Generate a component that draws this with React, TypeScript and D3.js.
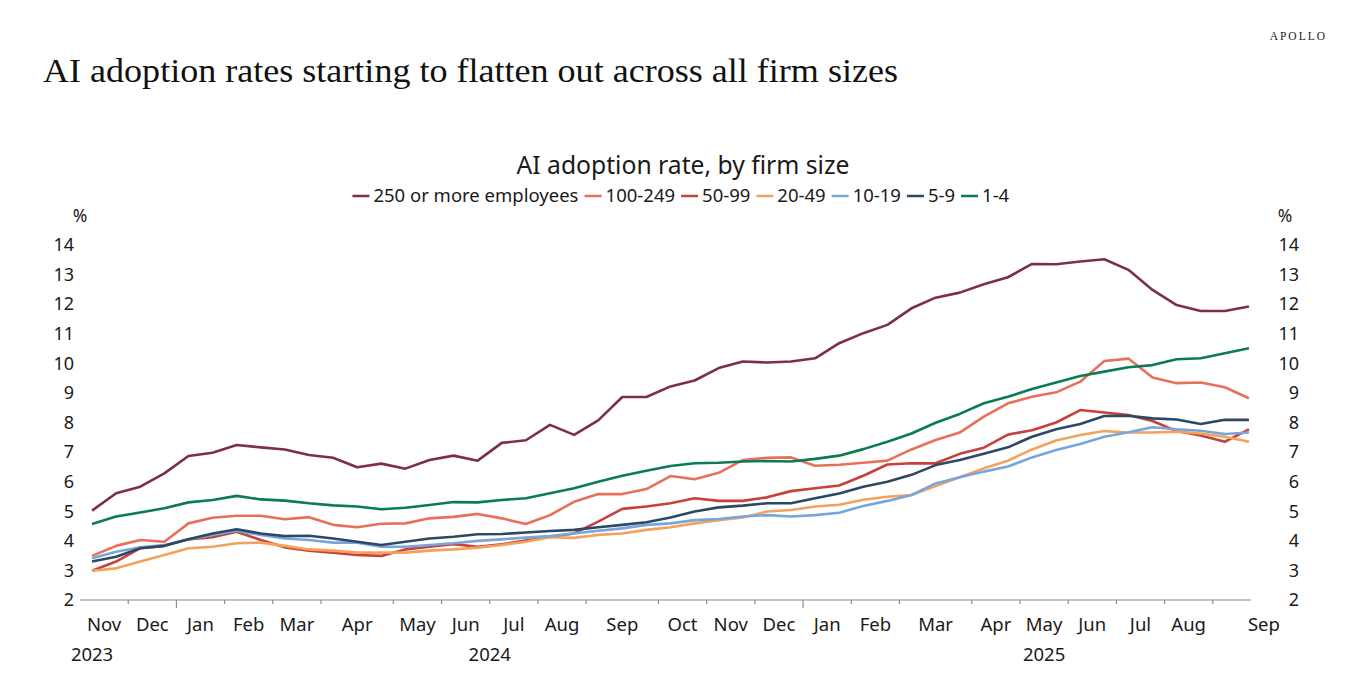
import { useEffect, useRef } from "react";
import * as d3 from "d3";

const WIDTH = 1366;
const HEIGHT = 678;
const FONT = "'Noto Sans', 'Open Sans', sans-serif";

// biweekly observations, Nov 2023 - Sep 2025
const MONTHS = ["Nov", "Dec", "Jan", "Feb", "Mar", "Apr", "May", "Jun", "Jul", "Aug", "Sep", "Oct",
  "Nov", "Dec", "Jan", "Feb", "Mar", "Apr", "May", "Jun", "Jul", "Aug", "Sep"];
const MONTH_POINTS = [2, 2, 2, 2, 2, 3, 2, 2, 2, 2, 3, 2, 2, 2, 2, 2, 3, 2, 2, 2, 2, 2, 2];
const YEARS = ["2023", "2024", "2025"];
const YEAR_AT = [0.5, 17, 40]; // in point units
const Y_TICKS = [2, 3, 4, 5, 6, 7, 8, 9, 10, 11, 12, 13, 14];

const emp250 = [5.02, 5.61, 5.83, 6.28, 6.87, 6.98, 7.24, 7.16, 7.09, 6.9, 6.81, 6.49, 6.61, 6.44, 6.73, 6.88, 6.71,
  7.31, 7.4, 7.92, 7.58, 8.07, 8.86, 8.86, 9.22, 9.42, 9.84, 10.06, 10.03, 10.06, 10.17,
  10.68, 11.02, 11.3, 11.86, 12.22, 12.39, 12.67, 12.91, 13.36, 13.35, 13.44, 13.52, 13.16, 12.48, 11.97, 11.77, 11.77, 11.92];
const emp100 = [3.49, 3.83, 4.03, 3.97, 4.59, 4.78, 4.85, 4.85, 4.73, 4.8, 4.54, 4.46, 4.58, 4.59, 4.76, 4.81, 4.91,
  4.76, 4.57, 4.87, 5.32, 5.58, 5.58, 5.75, 6.19, 6.08, 6.3, 6.73, 6.81, 6.82, 6.54,
  6.57, 6.64, 6.71, 7.09, 7.41, 7.66, 8.2, 8.65, 8.87, 9.02, 9.38, 10.08, 10.16, 9.52, 9.33, 9.35, 9.19, 8.82];
const emp50 = [2.99, 3.3, 3.75, 3.83, 4.05, 4.12, 4.31, 4.03, 3.78, 3.67, 3.6, 3.52, 3.49, 3.71, 3.8, 3.89, 3.8,
  3.88, 4.01, 4.14, 4.25, 4.65, 5.08, 5.16, 5.27, 5.44, 5.35, 5.35, 5.47, 5.68, 5.78,
  5.87, 6.2, 6.58, 6.62, 6.62, 6.94, 7.15, 7.59, 7.74, 8.0, 8.42, 8.34, 8.25, 8.05, 7.71, 7.56, 7.35, 7.77];
const emp20 = [2.99, 3.07, 3.3, 3.52, 3.75, 3.8, 3.92, 3.94, 3.83, 3.71, 3.67, 3.6, 3.6, 3.6, 3.67, 3.71, 3.77,
  3.86, 3.97, 4.12, 4.1, 4.2, 4.25, 4.37, 4.46, 4.59, 4.7, 4.79, 4.99, 5.04, 5.16,
  5.22, 5.39, 5.49, 5.55, 5.85, 6.15, 6.45, 6.71, 7.09, 7.39, 7.58, 7.71, 7.66, 7.66, 7.69, 7.63, 7.52, 7.35];
const emp10 = [3.41, 3.63, 3.78, 3.86, 4.05, 4.2, 4.34, 4.2, 4.08, 4.03, 3.94, 3.94, 3.8, 3.8, 3.86, 3.92, 4.0,
  4.05, 4.11, 4.16, 4.25, 4.34, 4.42, 4.54, 4.59, 4.7, 4.74, 4.82, 4.87, 4.82, 4.87,
  4.95, 5.18, 5.35, 5.55, 5.94, 6.15, 6.34, 6.51, 6.82, 7.07, 7.27, 7.52, 7.67, 7.84, 7.77, 7.72, 7.61, 7.66];
const emp5 = [3.3, 3.46, 3.75, 3.83, 4.05, 4.25, 4.39, 4.25, 4.16, 4.17, 4.08, 3.97, 3.86, 3.97, 4.08, 4.14, 4.22,
  4.23, 4.28, 4.33, 4.37, 4.46, 4.54, 4.63, 4.79, 4.99, 5.13, 5.19, 5.27, 5.27, 5.44,
  5.6, 5.83, 6.0, 6.23, 6.56, 6.73, 6.94, 7.16, 7.52, 7.77, 7.95, 8.22, 8.23, 8.14, 8.1, 7.95, 8.09, 8.09];
const emp1 = [4.57, 4.82, 4.96, 5.1, 5.3, 5.38, 5.52, 5.4, 5.36, 5.27, 5.2, 5.16, 5.07, 5.12, 5.21, 5.31, 5.3,
  5.38, 5.44, 5.61, 5.78, 6.0, 6.2, 6.37, 6.53, 6.62, 6.64, 6.68, 6.7, 6.68, 6.77,
  6.88, 7.1, 7.35, 7.63, 7.99, 8.29, 8.65, 8.87, 9.13, 9.35, 9.57, 9.72, 9.87, 9.94, 10.14, 10.17, 10.34, 10.51];

const SERIES_NAMES = ["250 or more employees", "100-249", "50-99", "20-49", "10-19", "5-9", "1-4"];
const SERIES_VALUES = [emp250, emp100, emp50, emp20, emp10, emp5, emp1];
const SERIES_COLORS = ["#7d2e48", "#e8705b", "#c9403a", "#f2a25c", "#78a6da", "#2b4865", "#0a7b55"];

const PLOT = { left: 80, right: 1261, top: 245, bottom: 600 };
const LAST_LABEL_NUDGE = 27;

export default function App() {
  const legendRef = useRef<SVGGElement>(null);

  const n = emp250.length;
  const x = d3.scaleBand<number>().domain(d3.range(n)).range([PLOT.left, PLOT.right]);
  const bw = x.bandwidth();
  const cx = (i: number) => (x(i) as number) + bw / 2;
  const y = d3.scaleLinear().domain([2, 14]).range([PLOT.bottom, PLOT.top]);

  const line = d3
    .line<number>()
    .x((_, i) => cx(i))
    .y((d) => y(d));

  // month groups
  const starts = MONTH_POINTS.map((_, k) => d3.sum(MONTH_POINTS.slice(0, k)));
  const edge = (p: number) => PLOT.left + p * bw;

  useEffect(() => {
    const g = d3.select(legendRef.current);
    g.selectAll("*").remove();
    const items = g
      .selectAll("g")
      .data(SERIES_NAMES)
      .join("g");
    items
      .append("line")
      .attr("x1", 0)
      .attr("x2", 17)
      .attr("y1", 0)
      .attr("y2", 0)
      .attr("stroke", (_, i) => SERIES_COLORS[i])
      .attr("stroke-width", 2.5);
    items
      .append("text")
      .attr("x", 21)
      .attr("dy", "0.35em")
      .attr("font-family", FONT)
      .attr("font-size", 18.5)
      .attr("fill", "#1a1a1a")
      .text((d) => d);
    let offset = 0;
    const widths: number[] = [];
    items.each(function () {
      widths.push((this as SVGGElement).getBBox().width);
    });
    const gap = 6;
    const total = d3.sum(widths) + gap * (widths.length - 1);
    const start = 681 - total / 2;
    items.attr("transform", (_, i) => {
      const t = `translate(${start + offset},0)`;
      offset += widths[i] + gap;
      return t;
    });
  }, []);

  return (
    <svg
      width={WIDTH}
      height={HEIGHT}
      style={{ position: "absolute", left: 0, top: 0, background: "#fff" }}
    >
      <text
        x={1327}
        y={40}
        textAnchor="end"
        fontFamily="'Liberation Serif', serif"
        fontSize={11.5}
        letterSpacing={2}
        fill="#222"
      >
        APOLLO
      </text>
      <text
        x={43}
        y={82}
        fontFamily="'Liberation Serif', serif"
        fontSize={34}
        textLength={855}
        lengthAdjust="spacingAndGlyphs"
        fill="#111"
      >
        AI adoption rates starting to flatten out across all firm sizes
      </text>

      <text x={683} y={174} textAnchor="middle" fontFamily={FONT} fontSize={24.7} fill="#1a1a1a">
        AI adoption rate, by firm size
      </text>
      <g ref={legendRef} transform="translate(0,196)" />

      {/* y axes */}
      <text x={80} y={222} textAnchor="middle" fontFamily={FONT} fontSize={17.5} fill="#1a1a1a">%</text>
      <text x={1285} y={222} textAnchor="middle" fontFamily={FONT} fontSize={17.5} fill="#1a1a1a">%</text>
      {Y_TICKS.map((t) => (
        <g key={t} fontFamily={FONT} fontSize={18} fill="#1a1a1a">
          <text x={74} y={y(t)} dy="0.35em" textAnchor="end">{t}</text>
          <text x={1299} y={y(t)} dy="0.35em" textAnchor="end">{t}</text>
        </g>
      ))}

      {/* x axis */}
      <line x1={PLOT.left} x2={cx(n - 1) + 2} y1={PLOT.bottom} y2={PLOT.bottom} stroke="#8c8c8c" strokeWidth={1.2} />
      {starts.slice(1).map((s, k) => (
        <line
          key={k}
          x1={edge(s)}
          x2={edge(s)}
          y1={PLOT.bottom}
          y2={PLOT.bottom + (MONTHS[k + 1] === "Jan" ? 8 : 4)}
          stroke="#8c8c8c"
          strokeWidth={1.2}
        />
      ))}
      {MONTHS.map((m, k) => (
        <text
          key={k}
          x={edge(starts[k] + MONTH_POINTS[k] / 2) + (k === MONTHS.length - 1 ? LAST_LABEL_NUDGE : 0)}
          y={631}
          textAnchor="middle"
          fontFamily={FONT}
          fontSize={18.5}
          fill="#1a1a1a"
        >
          {m}
        </text>
      ))}
      {YEARS.map((yr, k) => (
        <text
          key={yr}
          x={edge(YEAR_AT[k])}
          y={661}
          textAnchor="middle"
          fontFamily={FONT}
          fontSize={18.5}
          fill="#1a1a1a"
        >
          {yr}
        </text>
      ))}

      {/* lines */}
      {SERIES_VALUES.map((vals, i) => (
        <path
          key={SERIES_NAMES[i]}
          d={line(vals) ?? ""}
          fill="none"
          stroke={SERIES_COLORS[i]}
          strokeWidth={2.6}
          strokeLinejoin="round"
        />
      ))}
    </svg>
  );
}
